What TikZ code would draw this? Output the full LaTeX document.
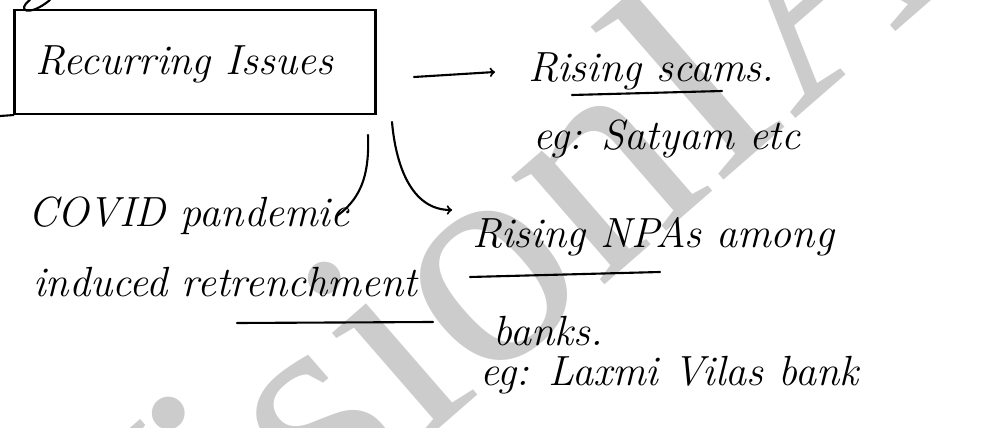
\documentclass[tikz,border=0pt]{standalone}
\usepackage{fontspec}
\usetikzlibrary{positioning}
\newfontfamily\wmfont{Liberation Serif}

\tikzset{
    note/.style={font=\itshape\fontsize{36}{40}\selectfont, inner sep=0pt, anchor=base west},
    ink/.style={line width=1.8pt, line cap=round},
}

\begin{document}
\begin{tikzpicture}[x=0.03cm, y=-0.03cm]  % one unit is one pixel of the scan
    \useasboundingbox (0,0) rectangle (1002,428);

    % Watermark behind everything
    \node[font=\wmfont\fontsize{264}{264}\selectfont, text=black!20,
          inner sep=0pt, anchor=base west, rotate=41] (wm) at (107,717) {VisionIAS};

    % Boxed heading
    \node[draw, ink, minimum width=10.83cm, minimum height=3.12cm, inner sep=0pt] (box) at (195,62) {};
    \node[note] (head) at (35,75) {Recurring Issues};
    \coordinate (edge) at (0,116);
    \draw[ink] (box.south west) -- (edge);
    % tail of a letter from the line above
    \draw[ink] (30,0) .. controls (16,10) and (28,18) .. (50,0);

    % Right branch
    \node[note] (scams) at (528,82) {Rising scams.};
    \node[note] (satyam) at (533,150) {eg: Satyam etc};
    \draw[ink] (572,95) -- (722,91);
    \coordinate (r0) at (414,77);
    \draw[ink, ->] (r0) -- ([shift={(-33,-10)}]scams.base west);

    % Down-left branch
    \node[note] (covid) at (28,227) {COVID pandemic};
    \node[note] (induced) at (33,297) {induced retrenchment};
    \draw[ink] (237,323) -- (433,322);
    \coordinate (l0) at (368,135);
    \draw[ink] (l0) to[out=-88, in=35] ([xshift=-0.4cm]covid.east);

    % Down-right branch
    \node[note] (npa) at (472,248) {Rising NPAs among};
    \node[note] (banks) at (493,345) {banks.};
    \node[note] (laxmi) at (480,385) {eg: Laxmi Vilas bank};
    \draw[ink] (470,277) -- (660,272);
    \coordinate (l2) at (392,122);
    \draw[ink, ->] (l2) to[out=-85, in=180] ([shift={(-20,-38)}]npa.base west);
\end{tikzpicture}
\end{document}
